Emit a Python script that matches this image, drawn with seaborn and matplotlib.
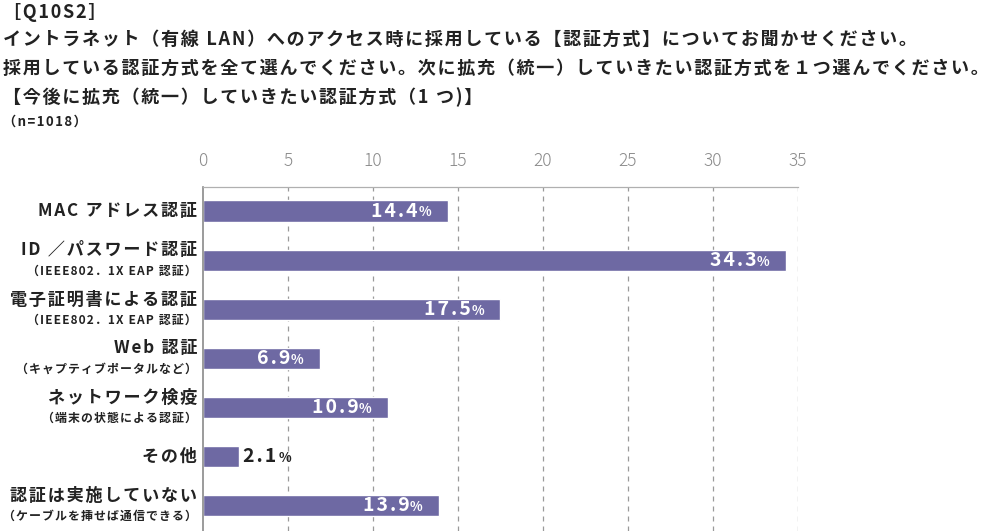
import seaborn as sns
import matplotlib.pyplot as plt
import pandas as pd
from matplotlib.transforms import blended_transform_factory, offset_copy

# dados do gráfico
rotulos = ['MAC アドレス認証', 'ID ／パスワード認証', '電子証明書による認証', 'Web 認証',
           'ネットワーク検疫', 'その他', '認証は実施していない']
subrotulos = ['', '（IEEE802．1X EAP 認証）', '（IEEE802．1X EAP 認証）', '（キャプティブポータルなど）',
              '（端末の状態による認証）', '', '（ケーブルを挿せば通信できる）']
valores = [14.4, 34.3, 17.5, 6.9, 10.9, 2.1, 13.9]
ticks_x = [0, 5, 10, 15, 20, 25, 30, 35]
titulo = ['［Q10S2］',
          'イントラネット（有線 LAN）へのアクセス時に採用している【認証方式】についてお聞かせください。',
          '採用している認証方式を全て選んでください。次に拡充（統一）していきたい認証方式を１つ選んでください。',
          '【今後に拡充（統一）していきたい認証方式（1 つ)】']
amostra = '（n=1018）'

df = pd.DataFrame({'item': rotulos, 'valor': valores})

sns.set_style('white')
plt.rcParams['font.family'] = ['Noto Sans CJK JP', 'DejaVu Sans']


def espacar(s, sep='\u200a'):
    # espaçamento entre letras (hair space vem da DejaVu)
    return sep.join(s)


cor_barra = '#6e69a3'
fig = plt.figure(figsize=(9.87, 5.31), dpi=100)
ax = fig.add_axes([203 / 987, 0, 595 / 987, 344 / 531])

sns.barplot(data=df, x='valor', y='item', color=cor_barra, width=0.43,
            orient='h', ax=ax, saturation=1)
ax.set_xlim(0, 35)
ax.set_ylim(6.52, -0.49)
ax.set_xlabel('')
ax.set_ylabel('')
ax.set_yticks([])
ax.set_xticks(ticks_x)
ax.xaxis.tick_top()
ax.tick_params(axis='x', length=0, pad=12, labelsize=12.5, labelcolor='#8a8a8a')
for t in ax.get_xticklabels():
    t.set_fontweight('light')
for x in ticks_x[1:]:
    ax.axvline(x, color='#9a9a9a', lw=0.9, ls=(0, (4, 4)), zorder=0)
for lado in ['right', 'bottom']:
    ax.spines[lado].set_visible(False)
ax.spines['left'].set_color('#8a8a8a')
ax.spines['left'].set_linewidth(1.2)
ax.spines['top'].set_color('#b0b0b0')
ax.spines['top'].set_linewidth(0.9)

# rótulos das categorias
tr = blended_transform_factory(ax.transAxes, ax.transData)
for i, (r, s) in enumerate(zip(rotulos, subrotulos)):
    if s:
        ax.text(-0.01, i - 0.2, espacar(r), transform=tr, ha='right', va='center',
                fontsize=12.3, fontweight='bold', color='#222222')
        ax.text(-0.01, i + 0.22, espacar(s), transform=tr, ha='right', va='center',
                fontsize=8.6, fontweight='bold', color='#222222')
    else:
        ax.text(-0.01, i, espacar(r), transform=tr, ha='right', va='center',
                fontsize=12.3, fontweight='bold', color='#222222')

# valores
fig.canvas.draw()
rend = fig.canvas.get_renderer()
for i, v in enumerate(valores):
    if v > 5:
        tp = offset_copy(ax.transData, fig=fig, x=-12, y=-1, units='points')
        ax.text(v, i, '%', transform=tp, ha='right', va='center', fontsize=9.5,
                fontweight='bold', color='white')
        tn = offset_copy(ax.transData, fig=fig, x=-21.5, y=0, units='points')
        ax.text(v, i, espacar(f'{v:.1f}'), transform=tn, ha='right', va='center',
                fontsize=14, fontweight='bold', color='white')
    else:
        tn = offset_copy(ax.transData, fig=fig, x=3, y=0, units='points')
        n = ax.text(v, i, espacar(f'{v:.1f}'), transform=tn, ha='left', va='center',
                    fontsize=14, fontweight='bold', color='#222222')
        bb = n.get_window_extent(rend)
        larg = bb.width * 72 / fig.dpi
        tp = offset_copy(ax.transData, fig=fig, x=3 + larg + 1.5, y=-1, units='points')
        ax.text(v, i, '%', transform=tp, ha='left', va='center', fontsize=9.5,
                fontweight='bold', color='#222222')

# título
ys = [12, 39, 68, 97]
for y, t in zip(ys, titulo):
    fig.text(3 / 987, 1 - y / 531, espacar(t), ha='left', va='center', fontsize=13,
             fontweight='bold', color='#222222')
fig.text(3 / 987, 1 - 122 / 531, espacar(amostra), ha='left', va='center', fontsize=9.5,
         fontweight='bold', color='#222222')

fig.savefig('out.png', dpi=100)
